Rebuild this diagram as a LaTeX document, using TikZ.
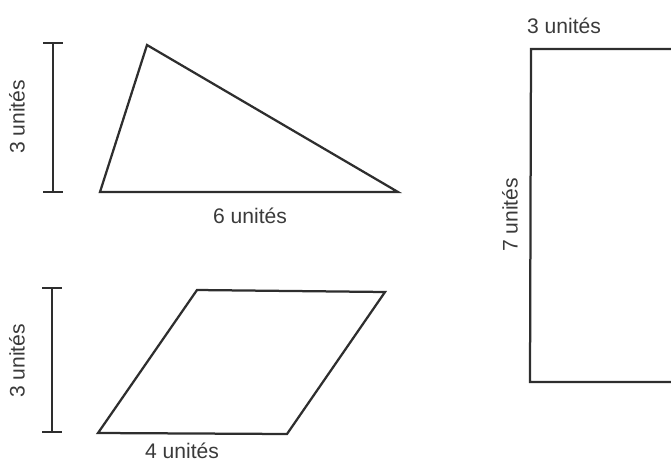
\documentclass[tikz,border=0pt]{standalone}
\usepackage{fontspec}
\setmainfont{Liberation Sans}
\usetikzlibrary{arrows.meta}
\definecolor{sink}{HTML}{2E2E2E}
\definecolor{slabel}{HTML}{3A3A3A}

\begin{document}
\begin{tikzpicture}[x=0.025cm, y=-0.025cm, line width=1.6pt, font=\fontsize{15}{17}\selectfont,
    figline/.style={draw=sink, line join=miter},
    dimbar/.style={draw=sink, {Bar[width=14pt]}-{Bar[width=14pt]}},
    dimlabel/.style={text=slabel, inner sep=0pt}]
  \useasboundingbox (0,0) rectangle (671,461);
  \clip (0,0) rectangle (671,461);

  % triangle with its height bar
  \coordinate (T1) at (100,192);
  \coordinate (T2) at (398,192);
  \coordinate (T3) at (147,45);
  \draw[figline] (T1) -- (T2) -- (T3) -- cycle;
  \coordinate (TH1) at (53,42);
  \coordinate (TH2) at (53,193);
  \draw[dimbar] (TH1) -- (TH2);
  \node[dimlabel, rotate=90] (tri-h) at (17,117) {3 unités};
  \node[dimlabel] (tri-b) at (250,216) {6 unités};

  % parallelogram with its height bar
  \coordinate (P1) at (98,433);
  \coordinate (P2) at (287,434);
  \coordinate (P3) at (385,292);
  \coordinate (P4) at (197,290);
  \draw[figline] (P1) -- (P2) -- (P3) -- (P4) -- cycle;
  \coordinate (PH1) at (52,287);
  \coordinate (PH2) at (52,433);
  \draw[dimbar] (PH1) -- (PH2);
  \node[dimlabel, rotate=90] (par-h) at (17,361) {3 unités};
  \node[dimlabel] (par-b) at (182,451) {4 unités};

  % tall rectangle, cut off by the page edge
  \coordinate (R1) at (530,382);
  \coordinate (R2) at (690,382);
  \coordinate (R3) at (690,49);
  \coordinate (R4) at (531,49);
  \draw[figline] (R2) -- (R1) -- (R4) -- (R3);
  \node[dimlabel] (rec-w) at (564,26) {3 unités};
  \node[dimlabel, rotate=90] (rec-h) at (510,215) {7 unités};
\end{tikzpicture}
\end{document}
